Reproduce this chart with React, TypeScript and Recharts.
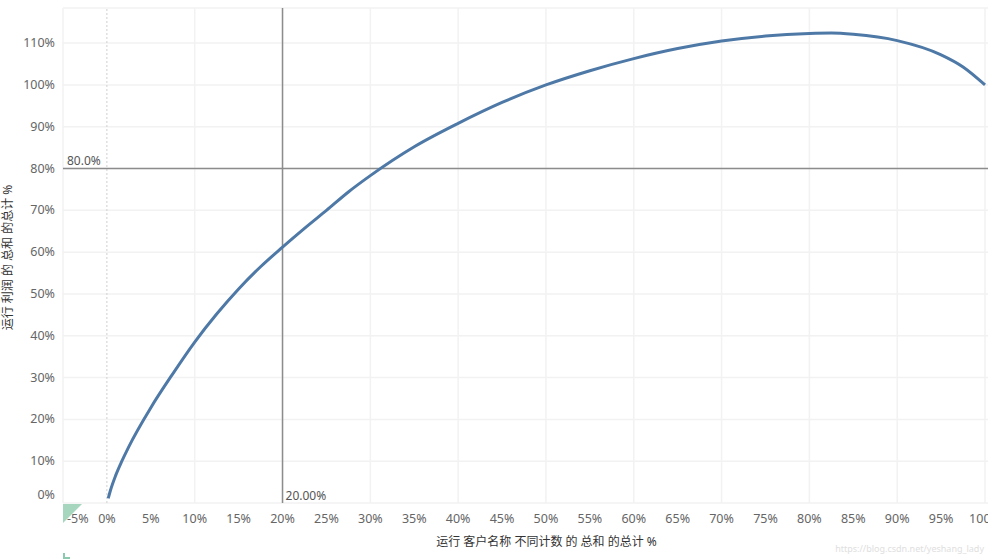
import React from 'react';
import { CartesianGrid, Label, Line, LineChart, ReferenceLine, XAxis, YAxis } from 'recharts';

// running share of customers (%) vs running share of profit (%)
const customerPct = [0.15, 0.4, 1, 1.7, 2.5, 5, 7.5, 10, 12.5, 15, 17.5, 20, 22.5, 25, 27.5, 30, 35, 40, 45, 50, 55, 60, 65, 70, 75, 80, 82.5, 85, 90, 95, 97.5, 100];
const profitPct = [1.1, 3, 6.6, 10, 13.5, 22.8, 30.9, 38.5, 45.2, 51.2, 56.5, 61.2, 65.7, 70, 74.4, 78.3, 85.2, 90.8, 95.8, 100, 103.4, 106.3, 108.7, 110.5, 111.7, 112.3, 112.4, 112.1, 110.6, 107.2, 104.3, 100];

const xTicks = [-5, 0, 5, 10, 15, 20, 25, 30, 35, 40, 45, 50, 55, 60, 65, 70, 75, 80, 85, 90, 95, 100];
const yTicks = [0, 10, 20, 30, 40, 50, 60, 70, 80, 90, 100, 110];
const xGrid = [-5, 10, 20, 30, 40, 50, 60, 70, 80, 90, 100];

const xTitle = '运行 客户名称 不同计数 的 总和 的总计 %';
const yTitle = '运行 利润 的 总和 的总计 %';
const refX = 20;
const refY = 80;

const data = customerPct.map((x, i) => ({ x, y: profitPct[i] }));

const FONT = "'Noto Sans', 'Noto Sans CJK SC', sans-serif";

const XTick = (props: any) => {
    const { x, y, payload } = props;
    // first label is pushed inside the plot like Tableau does
    const first = payload.value === xTicks[0];
    return (
        <text x={first ? x + 4 : x} y={y} dy={12} textAnchor={first ? 'start' : 'middle'} fill="#666" fontSize={12.5} fontFamily={FONT}>
            {payload.value}%
        </text>
    );
};

const YTick = (props: any) => {
    const { x, y, payload } = props;
    // Tableau lifts the bottom label so it isn't clipped
    const dy = payload.value === 0 ? -8 : 0;
    return (
        <text x={x} y={y + dy} dy={4} textAnchor="end" fill="#666" fontSize={12.5} fontFamily={FONT}>
            {payload.value}%
        </text>
    );
};

export default function App() {
    return (
        <div style={{ position: 'absolute', left: 0, top: 0, width: 988, height: 559, background: '#fff' }}>
            <LineChart width={988} height={559} data={data} margin={{ top: 8, right: 0, left: 0, bottom: 0 }}>
                <CartesianGrid vertical={false} stroke="#f2f2f2" strokeWidth={1.5} />
                {xGrid.map(v => (
                    <ReferenceLine key={v} x={v} stroke="#f2f2f2" strokeWidth={1.5} />
                ))}
                <ReferenceLine x={0} stroke="#d0d0d0" strokeDasharray="2 2" />
                <XAxis
                    type="number"
                    dataKey="x"
                    domain={[-5, 100.34]}
                    ticks={xTicks}
                    tickLine={false}
                    axisLine={false}
                    height={56}
                    tick={<XTick />}
                    interval={0}
                    allowDataOverflow
                >
                    <Label
                        content={(p: any) => {
                            const vb = p.viewBox;
                            return (
                                <text x={vb.x + vb.width / 2 + 21} y={vb.y + 43} textAnchor="middle" fill="#333" fontSize={12} fontFamily={FONT}>
                                    {xTitle}
                                </text>
                            );
                        }}
                    />
                </XAxis>
                <YAxis
                    type="number"
                    domain={[0, 118.4]}
                    ticks={yTicks}
                    tickLine={false}
                    axisLine={false}
                    width={63}
                    tick={<YTick />}
                    interval={0}
                    allowDataOverflow
                >
                    <Label
                        content={(p: any) => {
                            const vb = p.viewBox;
                            const cx = 12;
                            const cy = vb.y + vb.height / 2 + 2;
                            return (
                                <text x={cx} y={cy} transform={`rotate(-90, ${cx}, ${cy})`} textAnchor="middle" fill="#333" fontSize={12} fontFamily={FONT}>
                                    {yTitle}
                                </text>
                            );
                        }}
                    />
                </YAxis>
                <ReferenceLine
                    y={refY}
                    stroke="#8c8c8c"
                    strokeWidth={1.5}
                    label={{ value: '80.0%', position: 'insideBottomLeft', offset: 4, fill: '#555', fontSize: 12, fontFamily: FONT }}
                />
                <ReferenceLine
                    x={refX}
                    stroke="#8c8c8c"
                    strokeWidth={1.5}
                    label={{ value: '20.00%', position: 'insideBottomLeft', offset: 3, fill: '#555', fontSize: 12, fontFamily: FONT }}
                />
                <Line
                    type="monotone"
                    dataKey="y"
                    stroke="#4e79a7"
                    strokeWidth={3}
                    dot={false}
                    isAnimationActive={false}
                />
            </LineChart>
            <svg width={988} height={559} style={{ position: 'absolute', left: 0, top: 0, pointerEvents: 'none' }}>
                <polygon points="63,504 82,504 63,523" fill="#a6d6bd" />
                <path d="M64,553 L64,558 L70,558" stroke="#8ccab0" strokeWidth={2} fill="none" />
                <text x={984} y={552} textAnchor="end" fill="#e0e0e0" fontSize={9} fontFamily={FONT}>
                    https://blog.csdn.net/yeshang_lady
                </text>
            </svg>
        </div>
    );
}
